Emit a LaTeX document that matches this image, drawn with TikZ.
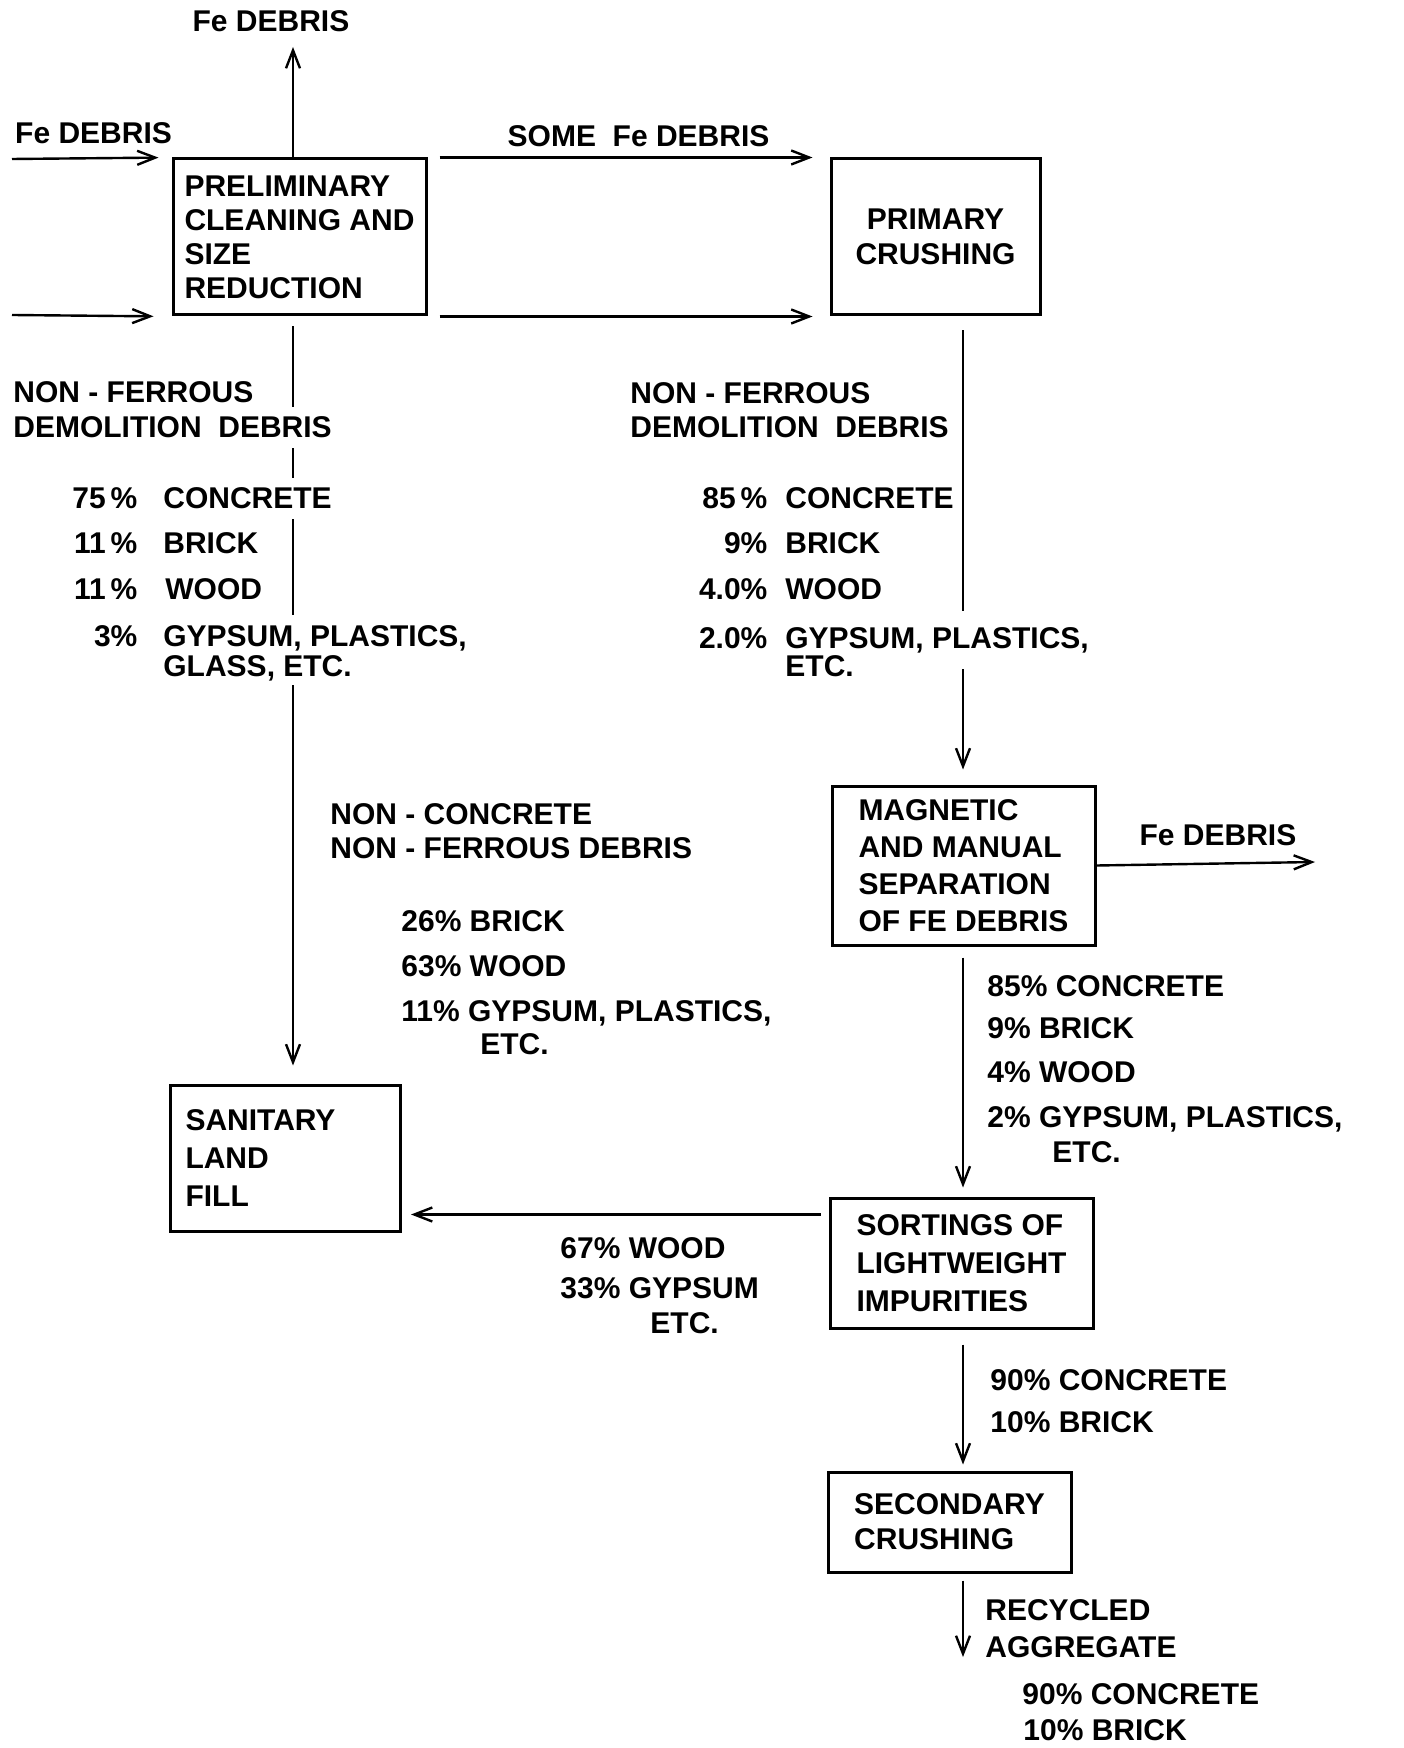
\documentclass[tikz,border=0pt]{standalone}
\usepackage{fontspec}
\setmainfont{Liberation Sans}
\usetikzlibrary{arrows.meta, positioning, backgrounds}

\begin{document}
\begin{tikzpicture}[
    x=0.5pt, y=-0.5pt,
    font=\fontsize{15}{17}\selectfont\bfseries,
    lead/.style={font=\fontsize{15}{#1}\selectfont\bfseries},
    stage/.style={rectangle, draw=black, line width=1.5pt, align=left, inner sep=0pt},
    flow/.style={draw=black, line width=1.2pt, -{Straight Barb[length=9pt, width=7pt]}},
    txt/.style={inner sep=1pt, anchor=base west},
    mask/.style={txt, fill=white, inner ysep=5pt}
]
    \useasboundingbox (0,0) rectangle (1403,1748);

    % Process stages
    \node [stage, minimum width=126.5pt, minimum height=78pt] (prelim) at (299.5,237) {PRELIMINARY\\CLEANING AND\\SIZE\\REDUCTION};
    \node [stage, align=center, lead=17.5, minimum width=104.5pt, minimum height=78pt, right=201pt of prelim] (primary) {PRIMARY\\CRUSHING};
    \node [stage, lead=18.5, minimum width=131.5pt, minimum height=79.5pt, below=234pt of primary, xshift=14pt] (magnetic) {MAGNETIC\\AND MANUAL\\SEPARATION\\OF FE DEBRIS};
    \node [stage, lead=19, text width=100pt, inner xsep=7.5pt, minimum height=73pt, below=383.5pt of prelim, xshift=-7pt] (landfill) {SANITARY\\LAND\\FILL};
    \node [stage, lead=19, minimum width=131.5pt, minimum height=65pt, below=125pt of magnetic, xshift=-1pt] (sortings) {SORTINGS OF\\LIGHTWEIGHT\\IMPURITIES};
    \node [stage, lead=17.5, minimum width=121.5pt, minimum height=50pt, below=70.5pt of sortings, xshift=-6pt] (secondary) {SECONDARY\\CRUSHING};

    % Free ends and columns
    \coordinate (feTop) at (293,47);
    \coordinate (inTop) at (12,159);
    \coordinate (inLow) at (12,315);
    \coordinate (feOut) at (1315,862);
    \coordinate (aggOut) at (963,1657);
    \coordinate (lcol) at (293,0);
    \coordinate (rcol) at (963,0);

    % Left column contents
    \node [txt] (lnf1) at (11,403) {NON - FERROUS};
    \node [mask] (lnf2) at (11,438) {DEMOLITION\ \ DEBRIS};
    \node [mask] (lc1) at (161,509) {\llap{75\,\%\hspace{13pt}}CONCRETE};
    \node [txt] (lc2) at (161,553) {\llap{11\,\%\hspace{13pt}}BRICK};
    \node [txt] (lc3) at (163,599) {\llap{11\,\%\hspace{14pt}}WOOD};
    \node [mask] (lc4) at (161,646) {\llap{3\%\hspace{13pt}}GYPSUM, PLASTICS,};
    \node [mask, inner ysep=2pt] (lc5) at (161,676) {GLASS, ETC.};

    % Right column contents
    \node [txt] (rnf1) at (628,404) {NON - FERROUS};
    \node [txt] (rnf2) at (628,438) {DEMOLITION\ \ DEBRIS};
    \node [txt] (rc1) at (783,509) {\llap{85\,\%\hspace{9pt}}CONCRETE};
    \node [txt] (rc2) at (783,553) {\llap{9\%\hspace{9pt}}BRICK};
    \node [txt] (rc3) at (783,599) {\llap{4.0\%\hspace{9pt}}WOOD};
    \node [mask, inner ysep=8pt] (rc4) at (783,648) {\llap{2.0\%\hspace{9pt}}GYPSUM, PLASTICS,};
    \node [txt] (rc5) at (783,676) {ETC.};

    % To land fill
    \node [txt] (nc1) at (328,824) {NON - CONCRETE};
    \node [txt] (nc2) at (328,858) {NON - FERROUS DEBRIS};
    \node [txt] (nc3) at (399,931) {26\% BRICK};
    \node [txt] (nc4) at (399,976) {63\% WOOD};
    \node [txt] (nc5) at (399,1021) {11\% GYPSUM, PLASTICS,};
    \node [txt] (nc6) at (478,1054) {ETC.};

    \node [txt] (lw1) at (558,1258) {67\% WOOD};
    \node [txt] (lw2) at (558,1298) {33\% GYPSUM};
    \node [txt] (lw3) at (648,1333) {ETC.};

    % After separation
    \node [txt] (ms1) at (985,996) {85\% CONCRETE};
    \node [txt] (ms2) at (985,1038) {9\% BRICK};
    \node [txt] (ms3) at (985,1082) {4\% WOOD};
    \node [txt] (ms4) at (985,1127) {2\% GYPSUM, PLASTICS,};
    \node [txt] (ms5) at (1050,1162) {ETC.};

    \node [txt] (ss1) at (988,1390) {90\% CONCRETE};
    \node [txt] (ss2) at (988,1432) {10\% BRICK};

    \node [txt] (ag1) at (983,1620) {RECYCLED};
    \node [txt] (ag2) at (983,1657) {AGGREGATE};
    \node [txt] (ag3) at (1020,1704) {90\% CONCRETE};
    \node [txt] (ag4) at (1021,1740) {10\% BRICK};

    % Connections
    \begin{scope}[on background layer]
    \draw [flow] (prelim.north -| lcol) -- (feTop) node[above=6pt, xshift=-11pt, inner sep=1pt] {Fe DEBRIS};
    \draw [flow, shorten >=6.5pt] (inTop) -- (prelim.north west) node[pos=0, anchor=south west, yshift=6pt, inner sep=1pt] {Fe DEBRIS};
    \draw [flow, shorten >=9pt] (inLow) -- (prelim.south west);

    \draw [flow, shorten <=6pt, shorten >=8.5pt] (prelim.north east) -- node[pos=0.525, above=4pt, inner sep=1pt] {SOME\ \ Fe DEBRIS} (primary.north west);
    \draw [flow, shorten <=6pt, shorten >=8.5pt] (prelim.south east) -- (primary.south west);

    \draw [flow, shorten <=5pt, shorten >=9pt] (prelim.south -| lcol) -- (landfill.north -| lcol);
    \draw [flow, shorten <=7pt, shorten >=7.5pt] (primary.south -| rcol) -- (magnetic.north -| rcol);
    \draw [flow] (magnetic.east) -- node[pos=0.556, above=7.5pt, inner sep=1pt] {Fe DEBRIS} (feOut);
    \draw [flow, shorten <=5.5pt, shorten >=4.5pt] (magnetic.south -| rcol) -- (sortings.north -| rcol);
    \draw [flow, shorten <=4pt, shorten >=4.5pt] ([yshift=-9pt]sortings.north west) -- ([yshift=-9pt]sortings.north west -| landfill.east);
    \draw [flow, shorten <=7.5pt, shorten >=3pt] (sortings.south -| rcol) -- (secondary.north -| rcol);
    \draw [flow, shorten <=3.5pt] (secondary.south -| rcol) -- (aggOut);
    \end{scope}

\end{tikzpicture}
\end{document}
